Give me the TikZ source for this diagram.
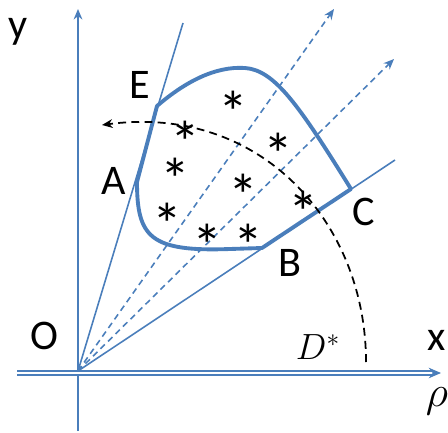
\documentclass[tikz,border=0pt]{standalone}
\usepackage{fontspec}
\setmainfont{Carlito}
\usepackage{amsmath}
\usepackage{xcolor}
\definecolor{bleutrait}{HTML}{4A7EBB}
\usetikzlibrary{arrows.meta}

\begin{document}
\begin{tikzpicture}[x=0.02cm, y=0.02cm,
      axe/.style={draw=bleutrait, line width=0.9pt},
      rayon/.style={draw=bleutrait, line width=0.9pt},
      sonde/.style={draw=bleutrait, line width=0.9pt,
                    dash pattern=on 3.5pt off 2.5pt,
                    -{Stealth[length=6pt, width=5pt]}},
      bord/.style={draw=bleutrait, line width=2.2pt, line join=round},
      front/.style={draw=black, line width=1pt,
                    dash pattern=on 4.5pt off 3pt,
                    -{Stealth[length=6pt, width=5pt]}},
      lettre/.style={font=\fontsize{24}{28}\selectfont, inner sep=0pt},
      etoile/.style={font=\fontsize{34}{36}\selectfont, inner sep=0pt,
                     yshift=-7pt}]
    \useasboundingbox (0,0) rectangle (448,432);
    % points de construction
    \coordinate (O)      at (78,61);
    \coordinate (haut)   at (78,423);
    \coordinate (bas)    at (78,1);
    \coordinate (gauche) at (17,59);
    \coordinate (droite) at (441,59);
    \coordinate (finE)   at (183,409);
    \coordinate (finC)   at (395,272);
    \coordinate (sonde1) at (334,423);
    \coordinate (sonde2) at (394,373);
    \coordinate (E) at (157,326);
    \coordinate (A) at (137,250);
    \coordinate (B) at (262,184);
    \coordinate (C) at (351,243);
    \coordinate (arcdeb) at (366,70);
    \coordinate (arcfin) at (102,307);
    % axes
    \draw[axe, -{Stealth[length=6pt, width=5pt]}] (bas) -- (haut);
    \draw[axe, double=white, double distance=1.3pt,
          -{Stealth[length=7pt, width=6pt]}] (gauche) -- (droite);
    % rayons
    \draw[rayon] (O) -- (finE);
    \draw[rayon] (O) -- (finC);
    \draw[sonde] (O) -- (sonde1);
    \draw[sonde] (O) -- (sonde2);
    % domaine
    \draw[bord] (E) .. controls (185,350) and (215,366) .. (245,364)
                    .. controls (275,362) and (300,325) .. (C)
                    -- (B) -- (230,183)
                    .. controls (150,180) and (137,195) .. (A) -- cycle;
    % front
    \draw[front] (arcdeb) .. controls (366,210) and (260,328) .. (arcfin);
    % points
    \foreach \px/\py [count=\i] in {233/332, 185/302, 278/290, 175/265,
        243/249, 167/220, 207/199, 248/199, 303/232}
      \node[etoile] (pt\i) at (\px,\py) {*};
    % etiquettes
    \node[lettre] (ly) at (18,400)  {y};
    \node[lettre] (lO) at (44,96)   {O};
    \node[lettre] (lE) at (140,347) {E};
    \node[lettre] (lA) at (114,251) {A};
    \node[lettre] (lB) at (290,169) {B};
    \node[lettre] (lC) at (364,220) {C};
    \node[lettre] (lx) at (437,92)  {x};
    \node[font=\fontsize{23}{26}\selectfont, inner sep=0pt] (lrho) at (437,31) {$\rho$};
    \node[font=\fontsize{22}{26}\selectfont, inner sep=0pt] (lD) at (318,85) {$D^*$};
  \end{tikzpicture}
\end{document}
